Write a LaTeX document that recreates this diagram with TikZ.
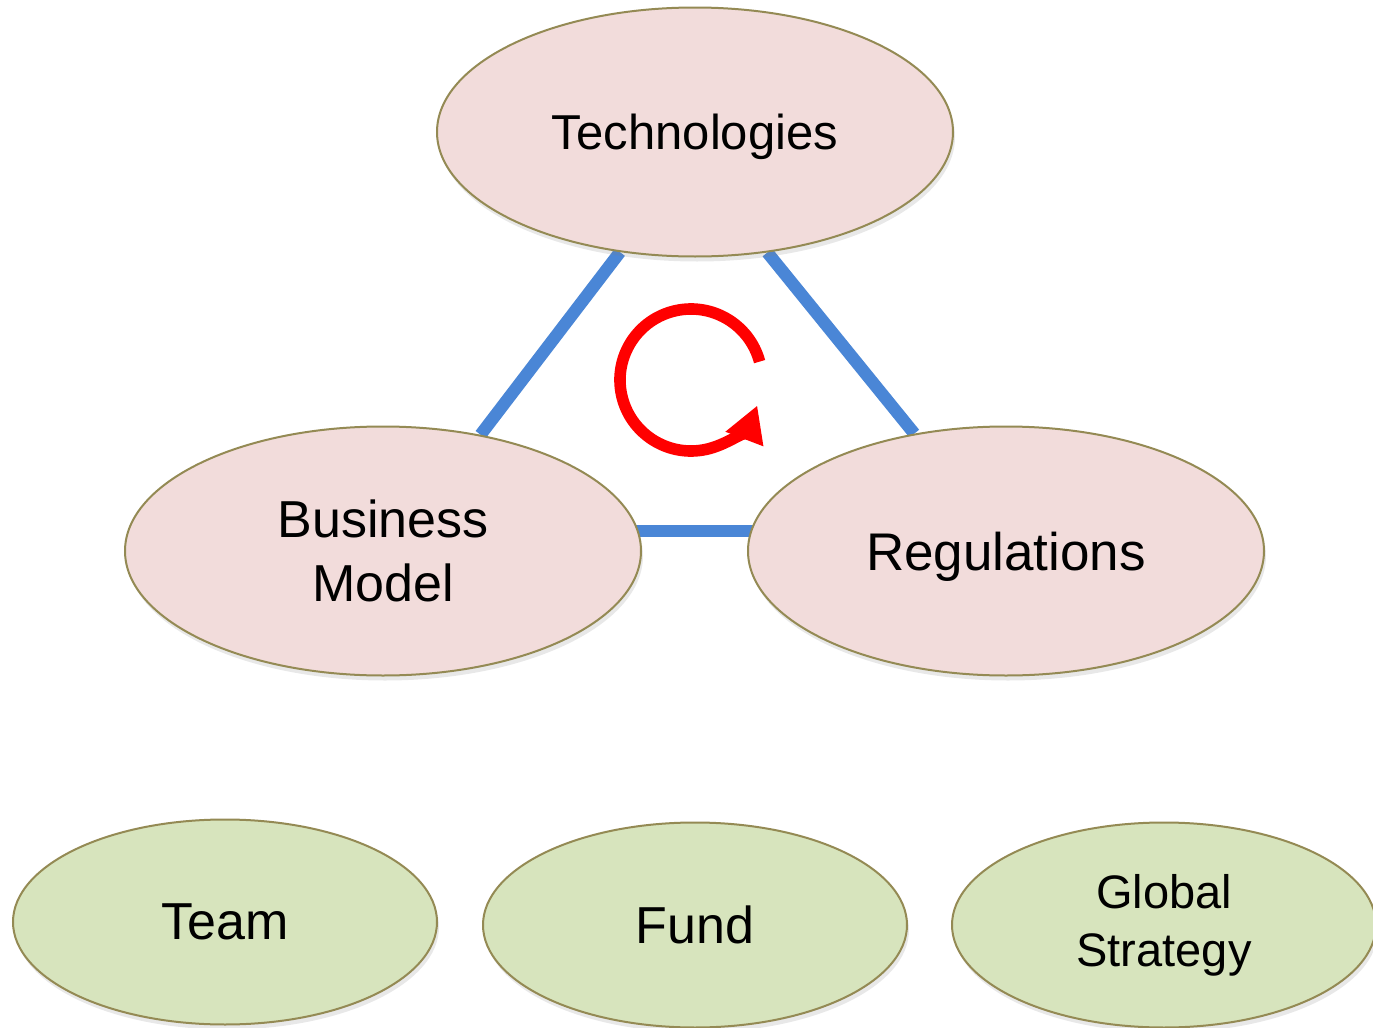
\documentclass[tikz,border=0pt]{standalone}
\usepackage{fontspec}
\setmainfont{Liberation Sans}
\usetikzlibrary{shapes.geometric,arrows.meta,shadows}
\pgfdeclarelayer{bg}
\pgfsetlayers{bg,main}
\definecolor{pinkfill}{HTML}{F2DCDB}
\definecolor{greenfill}{HTML}{D7E4BD}
\definecolor{olive}{HTML}{948A54}
\definecolor{linkblue}{HTML}{4A86D6}
\definecolor{cyclered}{HTML}{FF0000}
\begin{document}
\begin{tikzpicture}[x=0.5pt,y=-0.5pt,
  oval/.style={ellipse, draw=olive, line width=1pt, inner sep=0pt, align=center,
    drop shadow={opacity=0.18, shadow xshift=1pt, shadow yshift=-2.5pt}},
  topoval/.style={oval, fill=pinkfill, minimum width=258pt, minimum height=124.5pt,
    font=\fontsize{26}{32}\selectfont},
  botoval/.style={oval, fill=greenfill, minimum width=212pt, minimum height=102.5pt},
  link/.style={draw=linkblue, line width=6.2pt}
]
\useasboundingbox (0,0) rectangle (1373,1028);

\node[topoval, font=\fontsize{24.5}{30}\selectfont, text depth=0pt] (tech) at (695,132) {Technologies};
\node[topoval] (bm) at (383,551) {Business\\Model};
\node[topoval, font=\fontsize{26.5}{32}\selectfont, text depth=0pt] (reg) at (1006,551) {Regulations};

\node[botoval, font=\fontsize{26}{32}\selectfont] (team) at (225,922) {Team};
\node[botoval, font=\fontsize{26}{32}\selectfont] (fund) at (695,925) {Fund};
\node[botoval, font=\fontsize{23.5}{29}\selectfont] (glob) at (1164,925) {Global\\Strategy};

\begin{pgfonlayer}{bg}
  \fill[white] (0,0) rectangle (1373,1028);
  \draw[link] (tech.238.6) -- (bm.50.8);
  \draw[link] (tech.301.4) -- (reg.128.3);
  \draw[link] ([yshift=10pt]bm.center) -- ([yshift=10pt]reg.center);
\end{pgfonlayer}

\coordinate (cyc) at (691,380);
\draw[cyclered, line width=5.8pt, -{Triangle[length=18pt,width=19pt]}]
  ([shift={(-15:71)}]cyc) arc[start angle=-15, end angle=-339, radius=71];
\end{tikzpicture}
\end{document}
